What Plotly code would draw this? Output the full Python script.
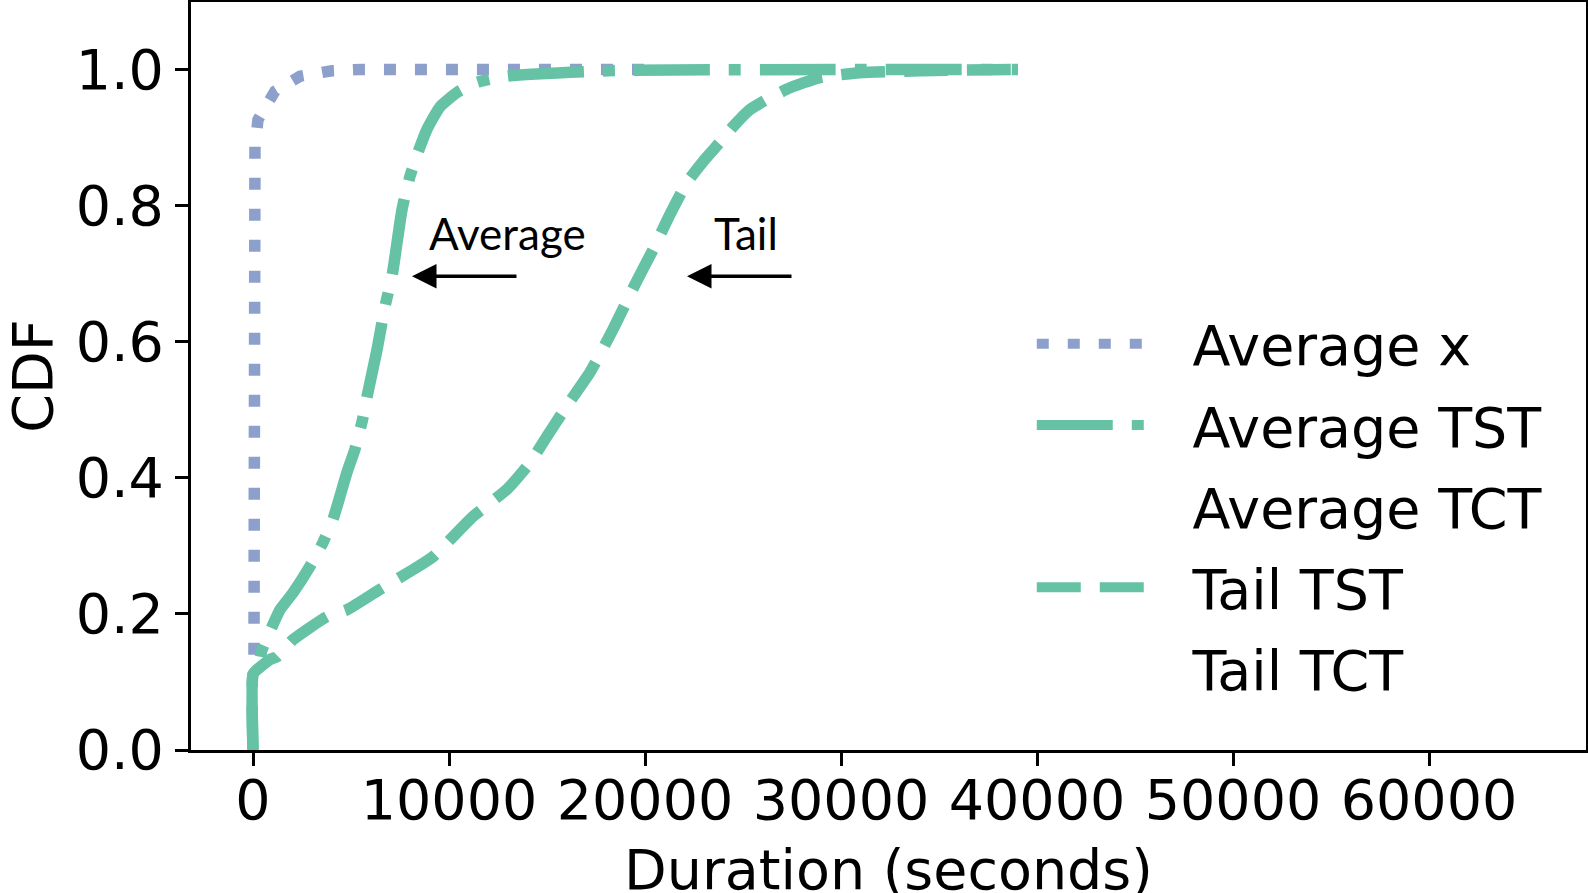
import plotly.graph_objects as go

# ---- data ----
avg_x_x = [50, 50, 100, 255, 1120, 2400, 4030, 5560, 20250]
avg_x_y = [0.14, 0.66, 0.887, 0.926, 0.968, 0.990, 0.998, 1.0, 1.0]

avg_tst_x = [0, 0, 255, 459, 969, 1378, 2041, 2908, 3571, 4082, 4439, 4796, 5204, 5561,
             5816, 6327, 6735, 7092, 7602, 8010, 8418, 8878, 9541, 10408, 11429, 12908,
             18112, 39031]
avg_tst_y = [0, 0.111, 0.121, 0.147, 0.181, 0.206, 0.231, 0.270, 0.305, 0.339, 0.373, 0.408,
             0.442, 0.482, 0.519, 0.588, 0.652, 0.696, 0.794, 0.843, 0.878, 0.912, 0.945,
             0.966, 0.981, 0.990, 0.998, 1.0]

tail_tst_x = [0, 0, 204, 867, 1224, 2041, 3776, 4796, 6480, 8163, 9184, 11224, 12959, 14133,
              15000, 16071, 17194, 18367, 19490, 20408, 21276, 22143, 23061, 23827, 24592,
              25357, 26224, 27398, 28929, 30969, 34031, 39031]
tail_tst_y = [0, 0.111, 0.118, 0.133, 0.137, 0.162, 0.196, 0.206, 0.236, 0.265, 0.284, 0.343,
              0.383, 0.422, 0.461, 0.508, 0.555, 0.618, 0.684, 0.735, 0.787, 0.834, 0.868,
              0.893, 0.919, 0.941, 0.956, 0.973, 0.988, 0.995, 0.998, 1.0]

series_names = ["Average x", "Average TST", "Average TCT", "Tail TST", "Tail TCT"]
x_ticks = [0, 10000, 20000, 30000, 40000, 50000, 60000]
y_ticks = [0.0, 0.2, 0.4, 0.6, 0.8, 1.0]

BLUE = "#8da0cb"
GREEN = "#66c2a5"
LW = 11.5
FONT = "DejaVu Sans"
FS = 55.5
PAD = "\u00a0\u00a0\u200a"  # gap between legend sample and label

fig = go.Figure()
fig.add_trace(go.Scatter(x=avg_x_x, y=avg_x_y, mode="lines", name=PAD + series_names[0],
                         legendgroup="g0",
                         line=dict(color=BLUE, width=LW, dash="12px,19px")))
fig.add_trace(go.Scatter(x=avg_tst_x, y=avg_tst_y, mode="lines", name=PAD + series_names[1],
                         legendgroup="g1",
                         line=dict(color=GREEN, width=LW, dash="76px,19px,12px,19px",
                                   shape="spline", smoothing=0.5)))
fig.add_trace(go.Scatter(x=[None], y=[None], mode="lines", name=PAD + series_names[2],
                         legendgroup="g2",
                         line=dict(color="rgba(0,0,0,0)", width=LW)))
fig.add_trace(go.Scatter(x=tail_tst_x, y=tail_tst_y, mode="lines", name=PAD + series_names[3],
                         legendgroup="g3",
                         line=dict(color=GREEN, width=LW, dash="44px,19px",
                                   shape="spline", smoothing=0.5)))
fig.add_trace(go.Scatter(x=[None], y=[None], mode="lines", name=PAD + series_names[4],
                         legendgroup="g4",
                         line=dict(color="rgba(0,0,0,0)", width=LW)))

axis_common = dict(showline=True, linewidth=3, linecolor="black", mirror=True,
                   ticks="outside", ticklen=13, tickwidth=3, tickcolor="black",
                   showgrid=False, zeroline=False, automargin=False,
                   tickfont=dict(family=FONT, size=FS, color="black"))

fig.update_xaxes(range=[-3163, 68010], tickvals=x_ticks,
                 ticktext=[str(v) for v in x_ticks], ticklabelstandoff=-14,
                 **axis_common)
fig.update_yaxes(range=[0, 1.099], tickvals=y_ticks,
                 ticktext=["%.1f" % v for v in y_ticks],
                 title=dict(text="CDF", font=dict(family=FONT, size=FS, color="black"),
                            standoff=13),
                 **axis_common)

# x-axis title (placed as paper annotation so it can sit partly cut at the bottom edge)
fig.add_annotation(x=0.5, y=-0.1604, xref="paper", yref="paper", text="Duration (seconds)",
                   showarrow=False, xanchor="center", yanchor="middle",
                   font=dict(family=FONT, size=FS, color="black"))

# annotations: arrows and labels
fig.add_annotation(x=8112, y=0.696, ax=13520, ay=0.696, xref="x", yref="y", axref="x", ayref="y",
                   showarrow=True, arrowhead=2, arrowwidth=3.5, arrowsize=1.4, arrowcolor="black", text="")
fig.add_annotation(x=22143, y=0.696, ax=27551, ay=0.696, xref="x", yref="y", axref="x", ayref="y",
                   showarrow=True, arrowhead=2, arrowwidth=3.5, arrowsize=1.4, arrowcolor="black", text="")
fig.add_annotation(x=13010, y=0.76, xref="x", yref="y", text="Average", showarrow=False,
                   font=dict(family="Lato", size=44, color="black"))
fig.add_annotation(x=25153, y=0.76, xref="x", yref="y", text="Tail", showarrow=False,
                   font=dict(family="Lato", size=44, color="black"))

fig.update_layout(
    width=1588, height=893,
    margin=dict(l=191, r=2, t=2, b=143),
    plot_bgcolor="white", paper_bgcolor="white",
    showlegend=True,
    legend=dict(x=0.6027, y=0.6, xanchor="left", yanchor="top", tracegroupgap=6,
                bgcolor="rgba(0,0,0,0)", borderwidth=0, itemwidth=110,
                font=dict(family=FONT, size=FS, color="black")),
)

fig.write_html("out.html", config={"displayModeBar": False},
               post_script="document.body.style.margin='0';document.body.style.overflow='hidden';")
